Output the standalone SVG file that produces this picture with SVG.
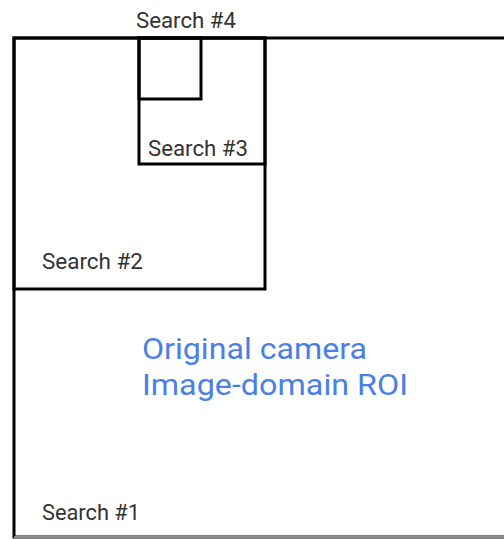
<svg xmlns="http://www.w3.org/2000/svg" width="504" height="539" viewBox="0 0 504 539">
<style>
.box{fill:none;stroke:#000;stroke-width:3}
.lbl{font-family:Roboto,"Liberation Sans",sans-serif;font-size:22px;fill:#333}
.roi{font-family:Roboto,"Liberation Sans",sans-serif;font-size:29px;fill:#4a80e4}
</style>
<rect width="504" height="539" fill="#fff"/>
<g id="search1">
<rect class="box" x="14" y="38" width="500" height="499"/>
<line x1="14" y1="537" x2="504" y2="537" stroke="#bbb" stroke-width="1.5"/>
<text class="lbl" x="42" y="520" textLength="98" lengthAdjust="spacingAndGlyphs">Search #1</text>
</g>
<g id="search2">
<rect class="box" x="14" y="38" width="251" height="251"/>
<text class="lbl" x="42" y="269" textLength="101" lengthAdjust="spacingAndGlyphs">Search #2</text>
</g>
<g id="search3">
<rect class="box" x="139" y="38" width="126" height="126"/>
<text class="lbl" x="148" y="156" textLength="100" lengthAdjust="spacingAndGlyphs">Search #3</text>
</g>
<g id="search4">
<rect class="box" x="139" y="38" width="62" height="61"/>
<text class="lbl" x="136" y="28" textLength="100" lengthAdjust="spacingAndGlyphs">Search #4</text>
</g>
<g id="roi">
<text class="roi" x="142" y="359" textLength="225" lengthAdjust="spacingAndGlyphs">Original camera</text>
<text class="roi" x="142" y="395" textLength="266" lengthAdjust="spacingAndGlyphs">Image-domain ROI</text>
</g>
<g id="connectors"/>
</svg>
